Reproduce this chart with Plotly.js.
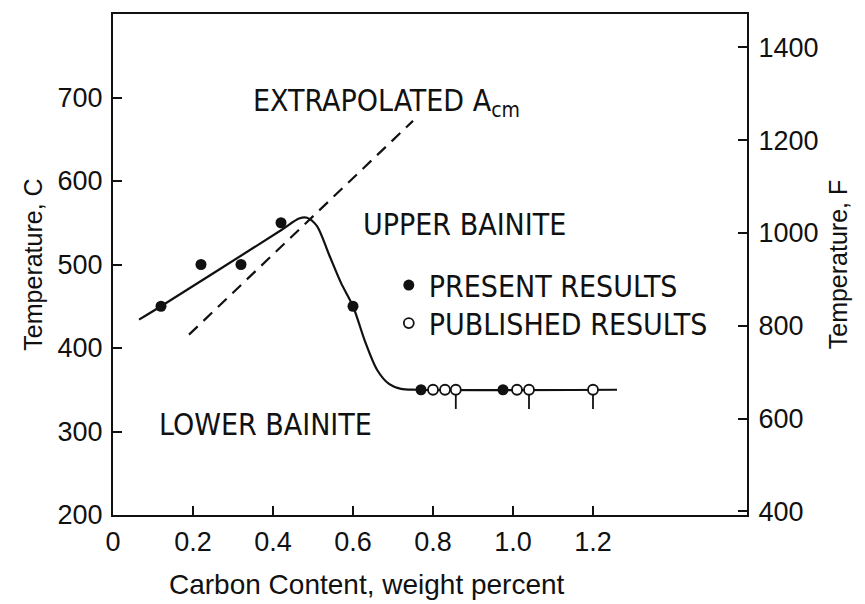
<!DOCTYPE html>
<html>
<head>
<meta charset="utf-8">
<script src="https://cdn.plot.ly/plotly-3.0.1.min.js"></script>
<style>html,body{margin:0;padding:0;background:#fff;}#chart{width:865px;height:604px;}</style>
</head>
<body>
<div id="chart"></div>
<script>
// Data
var curveX = [0.065, 0.12, 0.42, 0.465, 0.485, 0.51, 0.54, 0.57, 0.60, 0.63, 0.66, 0.69, 0.72, 0.76, 1.26];
var curveY = [434, 450, 541, 555, 556, 546, 512, 478, 450, 408, 374, 357, 351, 350, 350];

var acmX = [0.19, 0.75];
var acmY = [416, 672];

var presentX = [0.12, 0.22, 0.32, 0.42, 0.60, 0.77, 0.975];
var presentY = [450, 500, 500, 550, 450, 350, 350];

var publishedX = [0.80, 0.83, 0.857, 1.01, 1.04, 1.20];
var publishedY = [350, 350, 350, 350, 350, 350];
var publishedTail = [0, 0, 23, 0, 23, 23];

var xTickVals = [0, 0.2, 0.4, 0.6, 0.8, 1.0, 1.2];
var xTickText = ['0', '0.2', '0.4', '0.6', '0.8', '1.0', '1.2'];
var cTicks = [200, 300, 400, 500, 600, 700];
var fTicks = [400, 600, 800, 1000, 1200, 1400];

var ink = '#111';
var tickFont = {family: 'Liberation Sans, Arial, sans-serif', size: 27, color: ink};
var titleFont = {family: 'Liberation Sans, Arial, sans-serif', size: 25, color: ink};
var labelFont = {family: 'Liberation Sans Narrow, DejaVu Sans Condensed, Arial Narrow, sans-serif', size: 30, color: ink};

var traces = [
  {x: curveX, y: curveY, mode: 'lines', line: {color: ink, width: 2.2, shape: 'spline', smoothing: 0.8}, showlegend: false, hoverinfo: 'skip'},
  {x: acmX, y: acmY, mode: 'lines', line: {color: ink, width: 2.2, dash: '12px,8px'}, showlegend: false, hoverinfo: 'skip'},
  {x: publishedX, y: publishedY, mode: 'markers', name: 'PUBLISHED RESULTS', legend: 'legend2',
   marker: {symbol: 'circle', size: 10, color: '#fff', line: {color: ink, width: 1.8}},
   error_y: {type: 'data', symmetric: false, array: publishedY.map(function(){return 0;}), arrayminus: publishedTail, width: 0, thickness: 1.8, color: ink}},
  {x: presentX, y: presentY, mode: 'markers', name: 'PRESENT RESULTS', legend: 'legend',
   marker: {symbol: 'circle', size: 11, color: ink}},
  {x: [], y: [], yaxis: 'y2', mode: 'markers', showlegend: false, hoverinfo: 'skip'}
];

var layout = {
  width: 865, height: 604, autosize: false,
  margin: {l: 113, r: 118, t: 14, b: 89},
  paper_bgcolor: '#fff', plot_bgcolor: '#fff',
  showlegend: true,
  legend: {x: 0.435, y: 0.459, xanchor: 'left', yanchor: 'middle',
           font: labelFont, bgcolor: 'rgba(0,0,0,0)', itemwidth: 30},
  legend2: {x: 0.435, y: 0.383, xanchor: 'left', yanchor: 'middle',
           font: labelFont, bgcolor: 'rgba(0,0,0,0)', itemwidth: 30},
  xaxis: {range: [0, 1.585], tickvals: xTickVals, ticktext: xTickText, ticks: 'inside', ticklen: 9, tickwidth: 2,
          tickcolor: ink, showline: true, linecolor: ink, linewidth: 2, mirror: true, showgrid: false, zeroline: false,
          tickfont: tickFont, ticklabelstandoff: 2},
  yaxis: {range: [200, 800], tickvals: cTicks, ticks: 'inside', ticklen: 9, tickwidth: 2, tickcolor: ink,
          showline: true, linecolor: ink, linewidth: 2, showgrid: false, zeroline: false, tickfont: tickFont,
          title: {text: 'Temperature, C', font: titleFont, standoff: 8}, ticklabelstandoff: 3},
  yaxis2: {overlaying: 'y', side: 'right', range: [392, 1472], tickvals: fTicks, ticks: 'inside', ticklen: 9, tickwidth: 2,
           tickcolor: ink, showline: true, linecolor: ink, linewidth: 2, showgrid: false, zeroline: false,
           tickfont: tickFont, title: {text: 'Temperature, F', font: titleFont, standoff: 12}, ticklabelstandoff: 4},
  annotations: [
    {x: 0.345, y: 694, xref: 'x', yref: 'y', text: 'EXTRAPOLATED A<sub>cm</sub>', showarrow: false, xanchor: 'left', yanchor: 'middle', font: labelFont},
    {x: 0.62, y: 548, xref: 'x', yref: 'y', text: 'UPPER BAINITE', showarrow: false, xanchor: 'left', yanchor: 'middle', font: labelFont},
    {x: 0.11, y: 308, xref: 'x', yref: 'y', text: 'LOWER BAINITE', showarrow: false, xanchor: 'left', yanchor: 'middle', font: labelFont},
    {x: 0.40, y: -0.138, xref: 'paper', yref: 'paper', text: 'Carbon Content, weight percent', showarrow: false,
     xanchor: 'center', yanchor: 'middle', font: {family: 'Liberation Sans, Arial, sans-serif', size: 28, color: ink}}
  ]
};

Plotly.newPlot('chart', traces, layout, {staticPlot: true, displayModeBar: false});
</script>
</body>
</html>
